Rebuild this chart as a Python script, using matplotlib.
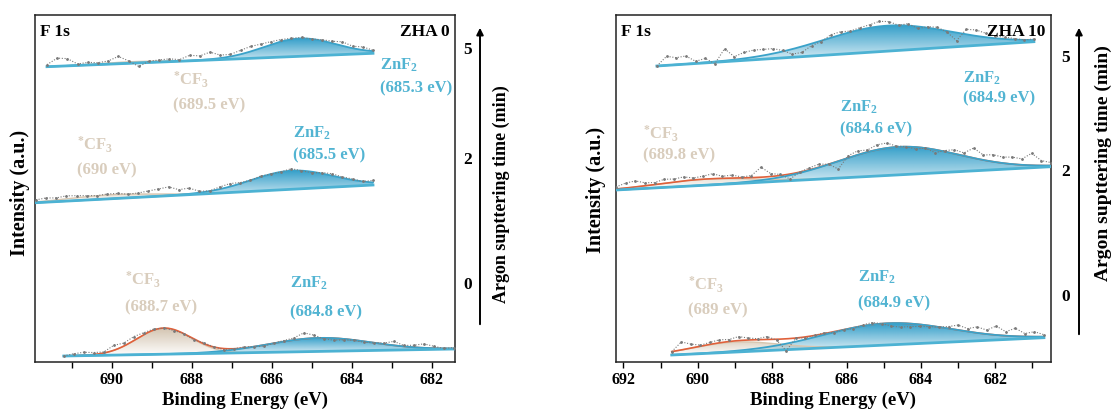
import numpy as np
import matplotlib
matplotlib.use("Agg")
import matplotlib.pyplot as plt
from matplotlib.patches import FancyArrowPatch

plt.rcParams["font.family"] = ["Liberation Serif", "DejaVu Serif"]
plt.rcParams["font.weight"] = "bold"
plt.rcParams["mathtext.fontset"] = "custom"
plt.rcParams["mathtext.rm"] = "Liberation Serif:bold"
plt.rcParams["mathtext.it"] = "Liberation Serif:bold"
plt.rcParams["mathtext.bf"] = "Liberation Serif:bold"

# ---------------- data ----------------
panel_titles = ["ZHA 0", "ZHA 10"]
sputter_times = ["0", "2", "5"]

# fitted components per spectrum: (start eV, end eV), baseline heights at both ends,
# CF3 (centre, amplitude, FWHM), ZnF2 (centre, amplitude, FWHM)
zha0_ranges = [(691.2, 681.45), (691.9, 683.47), (691.62, 683.47)]
zha0_baseline = [(6.0, 13.0), (159.3, 177.0), (295.3, 308.7)]
zha0_cf3 = [(688.7, 26.0, 1.6), (690.0, 4.0, 2.5), (689.5, 1.5, 2.0)]
zha0_znf2 = [(684.8, 13.5, 3.0), (685.5, 18.6, 2.4), (685.3, 17.8, 2.1)]

zha10_ranges = [(690.7, 680.69), (692.2, 680.5), (691.1, 680.96)]
zha10_baseline = [(7.0, 24.3), (172.0, 195.3), (296.0, 320.3)]
zha10_cf3 = [(689.0, 10.0, 2.7), (689.8, 6.0, 3.0), (689.0, 0.0, 2.0)]
zha10_znf2 = [(684.9, 21.7, 4.0), (684.6, 28.0, 3.8), (684.9, 25.5, 4.0)]

# measured counts minus fitted envelope, evenly spaced over each range
zha0_resid = [
    [0, 2, 3, 2, 1, 5, 3, 4, 2, 1, 0, -1, 0, -1, 1, 0, -1, 0, 1, 0,
     -1, 0, 1, 2, 6, 3, -1, -2, -1, 0, -1, 0, 1, 4, 1, 2, 4, 2, 0, 1],
    [2, 3, 2, 3, 2, 1, 0, 1, 1, 0, 1, 3, 5, 7, 4, 5, 1, 0, 2, 3,
     1, 0, 1, 0, 0, 2, 0, -1, 1, 2, 1, 1, 0, 2],
    [2, 8, 7, 1, 2, 1, 2, 6, 1, -5, 0, 1, 2, 1, 5, 4, 7, 3, 2, 4,
     5, 4, 3, 2, 1, 1, 0, 1, 2, 4, 2, 3, 1],
]
zha10_resid = [
    [0, 8, 4, 1, 2, 3, 2, 4, 2, 1, 3, -1, -12, 0, -1, 0, 1, -1, 0, -1,
     1, 2, 0, -3, -4, -3, -2, -1, 0, 2, 5, 3, 6, 4, 9, 4, 8, 3, 5, 2],
    [2, 5, 6, 3, 2, 4, 3, 4, 2, 3, 5, 2, 3, 1, 2, 10, 3, 1, -5, 0,
     2, 3, 0, -8, 2, 4, 2, 5, 5, 1, 0, -2, 0, -3, 1, 4, 3, 10, 5, 7,
     6, 7, 6, 12, 5, 3],
    [0, 9, 7, 8, 2, 4, -2, 12, 3, 6, 7, 6, 5, 1, -5, -6, -2, -1, 3, 3,
     1, 2, 3, 5, 4, 0, 2, -2, 1, 2, -1, -8, 5, 6, 4, 2, 2, 1, 0, 1],
]

# peak labels: (kind, x eV, y of first line, y of second line, energy text)
zha0_labels = [
    ("cf3", 689.67, 82, 55, "(688.7 eV)"), ("znf2", 685.54, 79, 50, "(684.8 eV)"),
    ("cf3", 690.87, 217, 192, "(690 eV)"), ("znf2", 685.47, 229, 207, "(685.5 eV)"),
    ("cf3", 688.46, 282, 257, "(689.5 eV)"), ("znf2", 683.29, 297, 274, "(685.3 eV)"),
]
zha10_labels = [
    ("cf3", 690.26, 77, 52, "(689 eV)"), ("znf2", 685.70, 85, 59, "(684.9 eV)"),
    ("cf3", 691.47, 228, 207, "(689.8 eV)"), ("znf2", 686.17, 255, 233, "(684.6 eV)"),
    ("znf2", 682.86, 284, 264, "(684.9 eV)"),
]

zha0_xlim = (691.92, 681.42)
zha10_xlim = (692.2, 680.5)
zha0_ticks = [690, 688, 686, 684, 682]
zha10_ticks = [692, 690, 688, 686, 684, 682]

# ---------------- styling ----------------
C_ZNF2_TXT = "#52b4d2"
C_ZNF2_FILL = np.array([0.16, 0.60, 0.78])
C_ZNF2_LINE = "#3aa2c9"
C_BASE = "#4cb2d3"
C_CF3_TXT = "#d9cdbd"
C_CF3_FILL = np.array([0.80, 0.73, 0.64])
C_CF3_LINE = "#d8c6b0"
C_ENV = "#e0603a"
C_RAW = "#7a7a7a"

FIG_W, FIG_H = 1111, 413


def gauss(x, c, a, fwhm):
    s = fwhm / 2.3548
    return a * np.exp(-0.5 * ((x - c) / s) ** 2)


def gradient_fill(ax, x, lo, hi, rgb, z, amax=0.95, amin=0.05):
    poly = ax.fill_between(x, lo, hi, facecolor="none", edgecolor="none", zorder=z)
    if np.max(hi - lo) < 0.3:
        return
    top = hi.max()
    bot = lo.min()
    n = 256
    img = np.ones((n, 2, 4))
    img[..., :3] = rgb
    img[..., 3] = np.linspace(amin, amax, n)[:, None]
    im = ax.imshow(img, extent=[x.min(), x.max(), bot, top], origin="lower",
                   aspect="auto", zorder=z, interpolation="bilinear")
    im.set_clip_path(poly.get_paths()[0], transform=ax.transData)


def draw_panel(ax, ranges, baselines, cf3s, znf2s, resids, env_flags):
    for (e0, e1), (b0, b1), cf, zn, res, env_on in zip(ranges, baselines, cf3s, znf2s,
                                                         resids, env_flags):
        x = np.linspace(e0, e1, 400)
        base = b0 + (b1 - b0) * (x - e0) / (e1 - e0)
        cf3 = gauss(x, *cf)
        znf = gauss(x, *zn)
        gradient_fill(ax, x, base, base + cf3, C_CF3_FILL, 2, amax=0.85, amin=0.0)
        gradient_fill(ax, x, base, base + znf, C_ZNF2_FILL, 3, amax=0.95, amin=0.05)
        if cf[1] > 0:
            ax.plot(x, base + cf3, color=C_CF3_LINE, lw=1.0, zorder=4)
        if env_on:
            ax.plot(x, base + cf3 + znf, color=C_ENV, lw=1.2, zorder=5)
        ax.plot(x, base + znf, color=C_ZNF2_LINE, lw=1.3, zorder=6)
        ax.plot(x, base, color=C_BASE, lw=2.0, zorder=7)
        # measured points
        xr = np.linspace(e0, e1, len(res))
        br = b0 + (b1 - b0) * (xr - e0) / (e1 - e0)
        yr = br + gauss(xr, *cf) + gauss(xr, *zn) + np.array(res, float)
        ax.plot(xr, yr, color=C_RAW, lw=0.8, ls=(0, (1, 1.5)), marker=".",
                ms=2.0, zorder=8)


def put_labels(ax, labels):
    for kind, xe, y1, y2, etext in labels:
        if kind == "cf3":
            name, col = r"$^{*}$CF$_3$", C_CF3_TXT
        else:
            name, col = r"ZnF$_2$", C_ZNF2_TXT
        ax.text(xe, y1, name, color=col, fontsize=12, fontweight="bold",
                ha="left", va="center", zorder=10)
        ax.text(xe, y2, etext, color=col, fontsize=12, fontweight="bold",
                ha="left", va="center", zorder=10)


def style_axes(ax, xlim, ticks, title):
    ax.set_xlim(*xlim)
    ax.set_ylim(0, 347)
    ax.set_yticks([])
    ax.set_xticks(ticks)
    ax.set_xticklabels([str(t) for t in ticks])
    minor = [t - 1 for t in ticks if xlim[1] <= t - 1 <= xlim[0]]
    minor += [t + 1 for t in ticks if xlim[1] <= t + 1 <= xlim[0] and t + 1 not in ticks]
    ax.set_xticks(sorted(set(minor)), minor=True)
    ax.tick_params(axis="x", which="both", direction="out", length=4, width=1.0,
                   labelsize=11.5, pad=3)
    for lab in ax.get_xticklabels():
        lab.set_fontweight("bold")
    for s in ax.spines.values():
        s.set_linewidth(1.1)
        s.set_color("#222222")
    ax.set_xlabel("Binding Energy (eV)", fontsize=13.5, fontweight="bold", labelpad=3)
    ax.text(0.012, 0.975, "F 1s", transform=ax.transAxes, fontsize=12.5,
            fontweight="bold", ha="left", va="top", zorder=11)
    ax.text(0.988, 0.975, title, transform=ax.transAxes, fontsize=12.5,
            fontweight="bold", ha="right", va="top", zorder=11)


fig = plt.figure(figsize=(FIG_W / 100, FIG_H / 100), dpi=100)
ax0 = fig.add_axes([35 / FIG_W, 51 / FIG_H, 420 / FIG_W, 347 / FIG_H])
ax1 = fig.add_axes([616 / FIG_W, 51 / FIG_H, 435 / FIG_W, 347 / FIG_H])

draw_panel(ax0, zha0_ranges, zha0_baseline, zha0_cf3, zha0_znf2, zha0_resid,
           [True, False, False])
draw_panel(ax1, zha10_ranges, zha10_baseline, zha10_cf3, zha10_znf2, zha10_resid,
           [True, True, False])
put_labels(ax0, zha0_labels)
put_labels(ax1, zha10_labels)
style_axes(ax0, zha0_xlim, zha0_ticks, panel_titles[0])
style_axes(ax1, zha10_xlim, zha10_ticks, panel_titles[1])


def fx(px):
    return px / FIG_W


def fy(py):
    return 1 - py / FIG_H


# intensity axis titles
fig.text(fx(20), fy(193), "Intensity (a.u.)", rotation=90, fontsize=14.5,
         fontweight="bold", ha="center", va="center")
fig.text(fx(596), fy(190), "Intensity (a.u.)", rotation=90, fontsize=14.5,
         fontweight="bold", ha="center", va="center")

# sputtering-time scales beside each panel
side = [
    dict(num_x=468, ys=[285, 160, 50], arrow_x=480, a_top=25, a_bot=327, tx=501,
         ty=194, fs=13),
    dict(num_x=1066, ys=[297, 172, 58], arrow_x=1079, a_top=25, a_bot=337, tx=1103,
         ty=163, fs=14),
]
for s in side:
    for t, py in zip(sputter_times, s["ys"]):
        fig.text(fx(s["num_x"]), fy(py), t, fontsize=12.5, fontweight="bold",
                 ha="center", va="center")
    arr = FancyArrowPatch((fx(s["arrow_x"]), fy(s["a_bot"])),
                          (fx(s["arrow_x"]), fy(s["a_top"])),
                          transform=fig.transFigure, arrowstyle="-|>",
                          mutation_scale=10, lw=1.4, color="black")
    fig.add_artist(arr)
    fig.text(fx(s["tx"]), fy(s["ty"]), "Argon supttering time (min)", rotation=90,
             fontsize=s["fs"], fontweight="bold", ha="center", va="center")

fig.savefig("out.png", dpi=100)
